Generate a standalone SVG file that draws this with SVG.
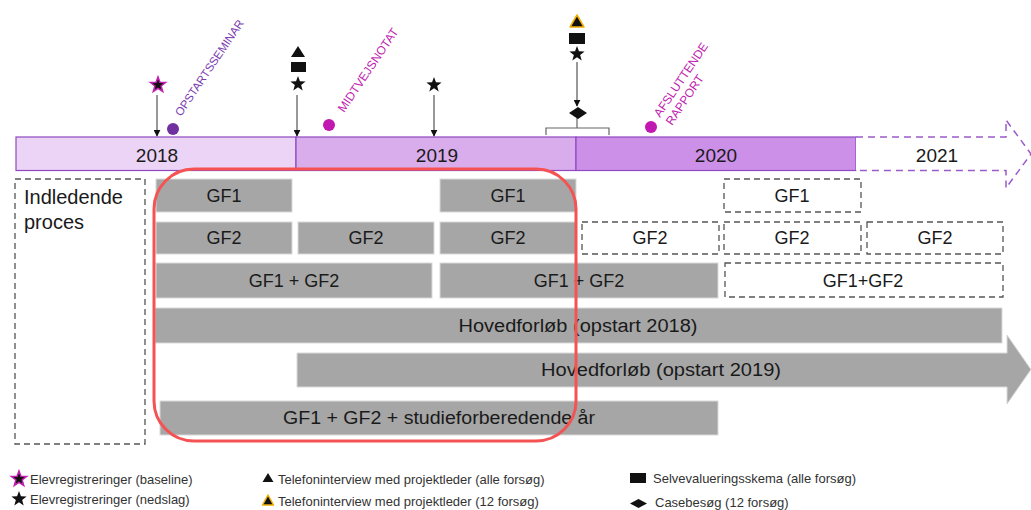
<svg xmlns="http://www.w3.org/2000/svg" xmlns:xlink="http://www.w3.org/1999/xlink" width="1031" height="510" viewBox="0 0 1031 510">
<style>
text{font-family:"Liberation Sans",Arial,sans-serif;fill:#1a1a1a}
.yr{font-size:19px;text-anchor:middle}
.bx{font-size:18px;text-anchor:middle}
.g{fill:#a6a6a6;stroke:#d9d9d9;stroke-width:1}
.d{fill:#fff;stroke:#555;stroke-width:1.3;stroke-dasharray:6 4}
.lg{font-size:13px;fill:#333}
.rot{font-size:12px}
.conn{stroke:#333;stroke-width:1;fill:none}
</style>
<defs>
<marker id="ah" viewBox="0 0 10 10" refX="9" refY="5" markerWidth="7" markerHeight="7" orient="auto" markerUnits="userSpaceOnUse">
<path d="M0,0 L10,5 L0,10 Z" fill="#111"/>
</marker>
<path id="star" d="M0,-8 L1.94,-2.67 L7.61,-2.47 L3.14,1.02 L4.70,6.47 L0,3.3 L-4.70,6.47 L-3.14,1.02 L-7.61,-2.47 L-1.94,-2.67 Z"/>
</defs>

<g id="timeline">
<rect x="16" y="137" width="280" height="33.5" fill="#ecd4f6" stroke="#8e48c0" stroke-width="1.2"/>
<rect x="296" y="137" width="280" height="33.5" fill="#d9acec" stroke="#8e48c0" stroke-width="1.2"/>
<rect x="576" y="137" width="280" height="33.5" fill="#cd90e8" stroke="#8e48c0" stroke-width="1.2"/>
<path d="M856,137 L1006,137 L1006,120 L1031,154 L1006,188 L1006,170.5 L856,170.5" fill="#fff" stroke="#9b5bcc" stroke-width="1.5" stroke-dasharray="7 5"/>
<text class="yr" x="157" y="162">2018</text>
<text class="yr" x="437" y="162">2019</text>
<text class="yr" x="716" y="162">2020</text>
<text class="yr" x="937" y="162">2021</text>
</g>

<g id="indledende">
<rect x="15" y="179" width="130" height="265" fill="#fff" stroke="#555" stroke-width="1.3" stroke-dasharray="6 4"/>
<text x="24" y="204" style="font-size:20px">Indledende</text>
<text x="24" y="229" style="font-size:20px">proces</text>
</g>

<g id="row1">
<rect class="g" x="156" y="179" width="136" height="33"/><text class="bx" x="224" y="202">GF1</text>
<rect class="g" x="440" y="179" width="136" height="33"/><text class="bx" x="508" y="202">GF1</text>
<rect class="d" x="724" y="179" width="137" height="33"/><text class="bx" x="792" y="202">GF1</text>
</g>
<g id="row2">
<rect class="g" x="156" y="222" width="136" height="32"/><text class="bx" x="224" y="244">GF2</text>
<rect class="g" x="298" y="222" width="136" height="32"/><text class="bx" x="366" y="244">GF2</text>
<rect class="g" x="440" y="222" width="136" height="32"/><text class="bx" x="508" y="244">GF2</text>
<rect class="d" x="582" y="222" width="137" height="32"/><text class="bx" x="650" y="244">GF2</text>
<rect class="d" x="724" y="222" width="137" height="32"/><text class="bx" x="792" y="244">GF2</text>
<rect class="d" x="867" y="222" width="136" height="32"/><text class="bx" x="935" y="244">GF2</text>
</g>
<g id="row3">
<rect class="g" x="156" y="263" width="276" height="35"/><text class="bx" x="294" y="287">GF1 + GF2</text>
<rect class="g" x="440" y="263" width="278" height="35"/><text class="bx" x="579" y="287">GF1 + GF2</text>
<rect class="d" x="725" y="263" width="278" height="34"/><text class="bx" x="863" y="287">GF1+GF2</text>
</g>
<g id="hoved2018">
<rect class="g" x="155" y="308" width="847" height="35"/>
<text class="bx" x="578" y="332" textLength="239" lengthAdjust="spacingAndGlyphs">Hovedforløb (opstart 2018)</text>
</g>
<g id="hoved2019">
<path d="M297,353 L1007,353 L1007,335 L1031,369.5 L1007,404 L1007,387 L297,387 Z" fill="#a6a6a6" stroke="#d9d9d9" stroke-width="1"/>
<text class="bx" x="661" y="376" textLength="240" lengthAdjust="spacingAndGlyphs">Hovedforløb (opstart 2019)</text>
</g>
<g id="studie">
<rect class="g" x="160" y="401" width="558" height="34"/>
<text class="bx" x="439" y="424" textLength="312" lengthAdjust="spacingAndGlyphs">GF1 + GF2 + studieforberedende år</text>
</g>

<g id="highlight">
<rect x="154" y="169" width="422" height="272" rx="40" ry="40" fill="none" stroke="#f55353" stroke-width="3"/>
</g>

<g id="connectors">
<line class="conn" x1="157" y1="95" x2="157" y2="136" marker-end="url(#ah)"/>
<line class="conn" x1="297" y1="95" x2="297" y2="136" marker-end="url(#ah)"/>
<line class="conn" x1="434" y1="95" x2="434" y2="136" marker-end="url(#ah)"/>
<line class="conn" x1="577" y1="62" x2="577" y2="106" marker-end="url(#ah)"/>
<path d="M577,118 L577,128 M546,135 L546,128 L609,128 L609,135" stroke="#666" stroke-width="1.2" fill="none"/>
</g>

<g id="m2018">
<use xlink:href="#star" href="#star" x="158" y="85" fill="#111" stroke="#c020b0" stroke-width="1.5"/>
<circle cx="173" cy="129" r="6" fill="#7030a0"/>
<text class="rot" x="181" y="117" transform="rotate(-56 181 117)" style="fill:#7b3bb0;font-size:11.5px">OPSTARTSSEMINAR</text>
</g>
<g id="m2019">
<polygon points="298,46 305,57 291,57" fill="#111"/>
<rect x="291" y="62" width="15" height="10" fill="#111"/>
<use xlink:href="#star" href="#star" x="298" y="84" fill="#111"/>
<circle cx="329" cy="125" r="6" fill="#c018b0"/>
<text class="rot" x="344" y="113" transform="rotate(-56 344 113)" style="fill:#c020b0">MIDTVEJSNOTAT</text>
</g>
<g id="m2019b">
<use xlink:href="#star" href="#star" x="434" y="85" fill="#111"/>
</g>
<g id="m2020">
<polygon points="577,15 584,27 570,27" fill="#111" stroke="#f0b000" stroke-width="1.5" stroke-linejoin="round"/>
<rect x="569" y="33" width="16" height="11" fill="#111"/>
<use xlink:href="#star" href="#star" x="577" y="54" fill="#111"/>
<polygon points="578,107 587,113 578,119 569,113" fill="#111"/>
<circle cx="651" cy="127" r="6" fill="#c018b0"/>
<text class="rot" x="660" y="118" transform="rotate(-56 660 118)" style="fill:#c020b0">AFSLUTTENDE</text>
<text class="rot" x="672" y="126" transform="rotate(-56 672 126)" style="fill:#c020b0">RAPPORT</text>
</g>

<g id="legend">
<use xlink:href="#star" href="#star" x="19" y="479" fill="#111" stroke="#c020b0" stroke-width="1.5"/>
<text class="lg" x="30" y="484">Elevregistreringer (baseline)</text>
<use xlink:href="#star" href="#star" x="19" y="499" fill="#111"/>
<text class="lg" x="30" y="504">Elevregistreringer (nedslag)</text>
<polygon points="268,473 273.5,482 262.5,482" fill="#111"/>
<text class="lg" x="278" y="484">Telefoninterview med projektleder (alle forsøg)</text>
<polygon points="268,495 273.5,505 262.5,505" fill="#111" stroke="#f0b000" stroke-width="1.5" stroke-linejoin="round"/>
<text class="lg" x="278" y="506">Telefoninterview med projektleder (12 forsøg)</text>
<rect x="630" y="473" width="16" height="10" fill="#111"/>
<text class="lg" x="653" y="483">Selvevalueringsskema (alle forsøg)</text>
<polygon points="638.5,499 647,503.5 638.5,508 630,503.5" fill="#111"/>
<text class="lg" x="655" y="507">Casebesøg (12 forsøg)</text>
</g>
</svg>
